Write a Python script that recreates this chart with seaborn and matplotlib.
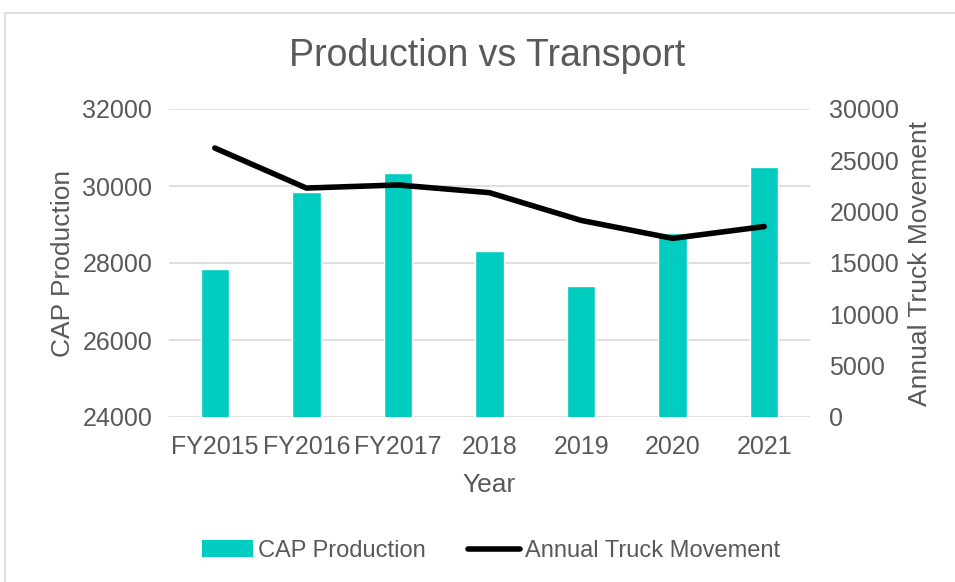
import pandas as pd
import matplotlib
matplotlib.use("Agg")
import matplotlib.pyplot as plt
import seaborn as sns
from matplotlib.patches import Rectangle
from matplotlib.lines import Line2D
from matplotlib.patches import Patch

# values
years = ["FY2015", "FY2016", "FY2017", "2018", "2019", "2020", "2021"]
cap_production = [27840, 29840, 30340, 28300, 27410, 28770, 30490]
truck_movement = [26200, 22300, 22600, 21850, 19150, 17400, 18550]

BAR_COLOR = "#00CCC0"
TEXT_COLOR = "#595959"
GRID_COLOR = "#D9D9D9"

df = pd.DataFrame({"Year": years, "CAP Production": cap_production,
                   "Annual Truck Movement": truck_movement})

sns.set_theme(style="white")
plt.rcParams["font.family"] = ["Liberation Sans", "DejaVu Sans"]

fig = plt.figure(figsize=(9.55, 5.82), dpi=100)
ax = fig.add_axes([169 / 955, 1 - 417 / 582, 641 / 955, 308 / 582])

# outer chart-area border
fig.patches.append(Rectangle((5 / 955, -0.01), 1.0, 1 - 13 / 582 + 0.01,
                             transform=fig.transFigure, fill=False,
                             edgecolor=GRID_COLOR, linewidth=1.2))

sns.barplot(data=df, x="Year", y="CAP Production", color=BAR_COLOR,
            width=0.31, saturation=1, ax=ax, zorder=2)
ax.set_ylim(24000, 32000)
ax.set_yticks(range(24000, 32001, 2000))
ax.set_xlim(-0.5, 6.5)
ax.yaxis.grid(True, color=GRID_COLOR, linewidth=1.2, zorder=0)
ax.set_axisbelow(True)
for s in ax.spines.values():
    s.set_visible(False)
ax.tick_params(axis="y", length=0, labelsize=18, colors=TEXT_COLOR, pad=12)
ax.tick_params(axis="x", length=0, labelsize=18, colors=TEXT_COLOR, pad=13)
ax.set_xlabel("Year", fontsize=19, color=TEXT_COLOR, labelpad=10)
ax.set_ylabel("CAP Production", fontsize=19, color=TEXT_COLOR, labelpad=5)

ax2 = ax.twinx()
sns.lineplot(data=df, x="Year", y="Annual Truck Movement", sort=False,
             color="black", linewidth=4, ax=ax2, solid_capstyle="round")
ax2.set_ylim(0, 30000)
ax2.set_yticks(range(0, 30001, 5000))
for s in ax2.spines.values():
    s.set_visible(False)
ax2.tick_params(axis="y", length=0, labelsize=18, colors=TEXT_COLOR, pad=14)
ax2.set_ylabel("Annual Truck Movement", fontsize=19, color=TEXT_COLOR, labelpad=6)
ax2.set_xlim(-0.5, 6.5)

fig.text(0.51, 1 - 56 / 582, "Production vs Transport", ha="center",
         va="center", fontsize=27, color=TEXT_COLOR)

handles = [Patch(facecolor=BAR_COLOR, edgecolor="none"),
           Line2D([0], [0], color="black", linewidth=4, solid_capstyle="round")]
fig.legend(handles, ["CAP Production", "Annual Truck Movement"],
           loc="center", bbox_to_anchor=(0.514, 1 - 551 / 582), ncol=2,
           frameon=False, fontsize=17, labelcolor=TEXT_COLOR,
           handlelength=2.2, handletextpad=0.2, columnspacing=1.8)

fig.savefig("out.png", dpi=100)
